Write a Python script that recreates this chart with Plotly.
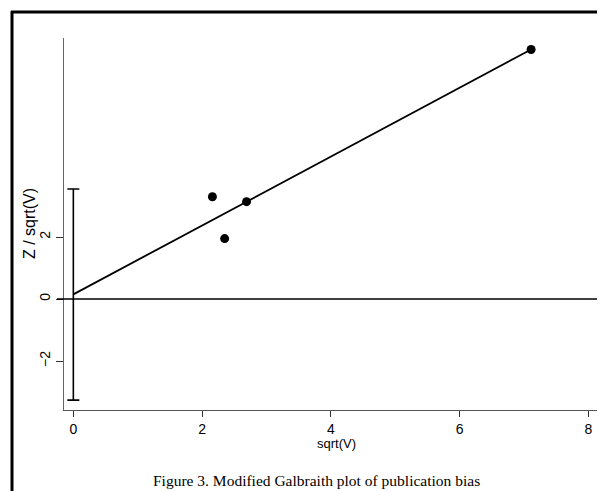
import plotly.graph_objects as go

# Data
sqrt_v = [2.16, 2.35, 2.69, 7.11]
z_over_sqrt_v = [3.30, 1.95, 3.14, 8.05]
fit_x = [0.0, 7.11]
fit_y = [0.15, 8.05]
ci_center = [0.15]
ci_high = [3.55]
ci_low = [-3.26]
x_ticks = [0, 2, 4, 6, 8]
y_ticks = [-2, 0, 2]

# page offset of the plot div (browser body margin)
OFF = 8
W, H = 605, 491
# plot area in page pixels
PL, PR, PT, PB = 64, 600, 38, 410
pw = PR - PL
ph = PB - PT

def px_x(p):
    return (p - PL) / pw

def px_y(p):
    return (PB - p) / ph

fig = go.Figure()

# confidence bar at x = 0
fig.add_trace(go.Scatter(
    x=[0], y=ci_center, mode="markers",
    marker=dict(size=0.1, color="black", opacity=0),
    error_y=dict(type="data", symmetric=False,
                 array=[ci_high[0] - ci_center[0]],
                 arrayminus=[ci_center[0] - ci_low[0]],
                 color="black", thickness=1.6, width=6),
    showlegend=False, hoverinfo="skip"))

# fitted line
fig.add_trace(go.Scatter(x=fit_x, y=fit_y, mode="lines",
                         line=dict(color="black", width=1.8),
                         showlegend=False))

# studies
fig.add_trace(go.Scatter(x=sqrt_v, y=z_over_sqrt_v, mode="markers",
                         marker=dict(color="black", size=9),
                         showlegend=False))

shapes = [
    # zero line
    dict(type="line", xref="paper", yref="y", x0=px_x(57), x1=px_x(600), y0=0, y1=0,
         line=dict(color="black", width=1.6)),
    # outer frame (top and left)
    dict(type="line", xref="paper", yref="paper", x0=px_x(11), x1=px_x(610),
         y0=px_y(12), y1=px_y(12), line=dict(color="black", width=3)),
    dict(type="line", xref="paper", yref="paper", x0=px_x(12), x1=px_x(12),
         y0=px_y(11), y1=px_y(495), line=dict(color="black", width=3)),
]

annotations = [
    dict(text="sqrt(V)", xref="paper", yref="paper", x=px_x(336), y=px_y(444),
         showarrow=False, font=dict(family="Liberation Sans", size=13, color="black"),
         xanchor="center", yanchor="middle"),
    dict(text="Z / sqrt(V)", xref="paper", yref="paper", x=px_x(29), y=px_y(224),
         showarrow=False, textangle=-90,
         font=dict(family="Liberation Sans", size=16, color="black"),
         xanchor="center", yanchor="middle"),
    dict(text="Figure 3. Modified Galbraith plot of publication bias",
         xref="paper", yref="paper", x=px_x(316), y=px_y(480),
         showarrow=False, font=dict(family="Liberation Serif", size=15.5, color="black"),
         xanchor="center", yanchor="middle"),
]

fig.update_layout(
    width=W - OFF, height=H - OFF,
    margin=dict(l=PL - OFF, r=W - PR, t=PT - OFF, b=H - PB),
    paper_bgcolor="white", plot_bgcolor="white",
    shapes=shapes, annotations=annotations,
    font=dict(family="Liberation Sans", size=14, color="black"),
)
fig.update_xaxes(range=[-0.145, 8.18], tickvals=x_ticks, ticks="outside", ticklen=6,
                 tickcolor="#333", showline=True, linecolor="#555", linewidth=1.2,
                 showgrid=False, zeroline=False, tickfont=dict(size=14))
fig.update_yaxes(range=[-3.58, 8.42], tickvals=y_ticks, ticks="outside", ticklen=7,
                 tickcolor="#333", showline=True, linecolor="#666", linewidth=1.2,
                 showgrid=False, zeroline=False, tickangle=-90, tickfont=dict(size=14))

fig.write_html("out.html")
